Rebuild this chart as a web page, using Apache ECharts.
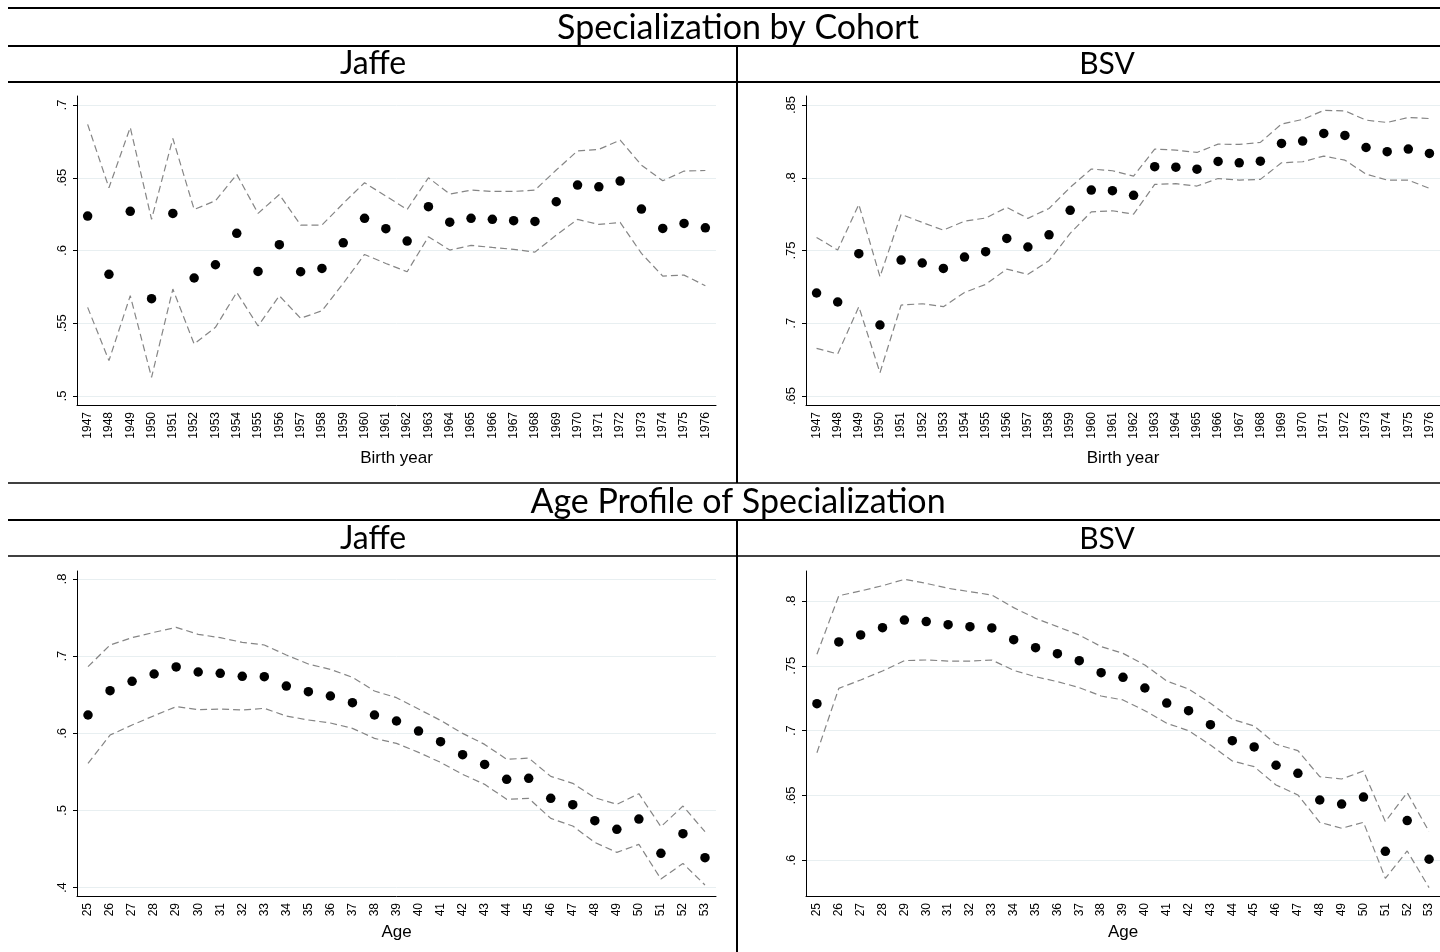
<!DOCTYPE html>
<html>
<head>
<meta charset="utf-8">
<script src="https://cdn.jsdelivr.net/npm/echarts@6/dist/echarts.min.js"></script>
<style>
html,body{margin:0;padding:0;background:#fff;}
#chart{width:1440px;height:952px;}
</style>
</head>
<body>
<div id="chart"></div>
<script>
// ---------- DATA ----------
const birthYears = ['1947','1948','1949','1950','1951','1952','1953','1954','1955','1956','1957','1958','1959','1960','1961','1962','1963','1964','1965','1966','1967','1968','1969','1970','1971','1972','1973','1974','1975','1976'];
const ages = ['25','26','27','28','29','30','31','32','33','34','35','36','37','38','39','40','41','42','43','44','45','46','47','48','49','50','51','52','53'];

// Specialization by cohort - Jaffe
const jaffeCohortEst = [0.6237,0.5836,0.6269,0.5669,0.6255,0.5811,0.5902,0.6118,0.5856,0.6040,0.5854,0.5877,0.6053,0.6221,0.6150,0.6065,0.6301,0.6195,0.6221,0.6214,0.6205,0.6200,0.6335,0.6450,0.6438,0.6477,0.6285,0.6152,0.6186,0.6156];
const jaffeCohortHi  = [0.6867,0.6431,0.6846,0.6214,0.6770,0.6282,0.6342,0.6523,0.6255,0.6385,0.6175,0.6175,0.6324,0.6466,0.6374,0.6282,0.6500,0.6388,0.6415,0.6406,0.6406,0.6415,0.6553,0.6685,0.6695,0.6759,0.6587,0.6479,0.6546,0.6550];
const jaffeCohortLo  = [0.5609,0.5243,0.5689,0.5128,0.5735,0.5357,0.5472,0.5712,0.5481,0.5689,0.5534,0.5586,0.5774,0.5973,0.5911,0.5854,0.6095,0.6003,0.6035,0.6021,0.6008,0.5989,0.6106,0.6214,0.6179,0.6193,0.5980,0.5824,0.5831,0.5758];

// Specialization by cohort - BSV
const bsvCohortEst = [0.7208,0.7146,0.7478,0.6988,0.7434,0.7414,0.7377,0.7455,0.7492,0.7583,0.7524,0.7608,0.7776,0.7915,0.7911,0.7879,0.8076,0.8073,0.8059,0.8112,0.8103,0.8114,0.8236,0.8252,0.8305,0.8291,0.8208,0.8179,0.8197,0.8167];
const bsvCohortHi  = [0.7590,0.7503,0.7817,0.7320,0.7748,0.7693,0.7640,0.7702,0.7723,0.7796,0.7721,0.7789,0.7934,0.8060,0.8048,0.8011,0.8197,0.8190,0.8174,0.8231,0.8229,0.8243,0.8369,0.8401,0.8463,0.8460,0.8396,0.8380,0.8414,0.8407];
const bsvCohortLo  = [0.6827,0.6789,0.7114,0.6660,0.7125,0.7134,0.7114,0.7212,0.7267,0.7372,0.7336,0.7430,0.7618,0.7766,0.7773,0.7750,0.7954,0.7959,0.7943,0.7995,0.7984,0.7989,0.8103,0.8110,0.8149,0.8121,0.8025,0.7984,0.7984,0.7927];

// Age profile - Jaffe
const jaffeAgeEst = [0.6238,0.6553,0.6674,0.6769,0.6860,0.6795,0.6778,0.6739,0.6734,0.6613,0.6540,0.6484,0.6397,0.6238,0.6160,0.6030,0.5892,0.5724,0.5598,0.5404,0.5417,0.5158,0.5076,0.4868,0.4756,0.4890,0.4445,0.4700,0.4389];
const jaffeAgeHi  = [0.6864,0.7145,0.7240,0.7309,0.7374,0.7283,0.7240,0.7179,0.7145,0.7015,0.6898,0.6829,0.6726,0.6549,0.6462,0.6315,0.6168,0.6000,0.5857,0.5663,0.5680,0.5443,0.5352,0.5166,0.5080,0.5218,0.4790,0.5058,0.4726];
const jaffeAgeLo  = [0.5611,0.5978,0.6108,0.6229,0.6346,0.6307,0.6315,0.6302,0.6324,0.6225,0.6173,0.6134,0.6065,0.5935,0.5870,0.5754,0.5624,0.5469,0.5339,0.5145,0.5158,0.4898,0.4799,0.4587,0.4458,0.4562,0.4112,0.4315,0.4035];

// Age profile - BSV
const bsvAgeEst = [0.7208,0.7684,0.7738,0.7794,0.7853,0.7841,0.7817,0.7802,0.7792,0.7702,0.7640,0.7594,0.7540,0.7447,0.7411,0.7329,0.7213,0.7154,0.7046,0.6923,0.6874,0.6733,0.6671,0.6465,0.6434,0.6488,0.6069,0.6306,0.6008];
const bsvAgeHi  = [0.7589,0.8041,0.8077,0.8118,0.8167,0.8136,0.8098,0.8072,0.8046,0.7949,0.7866,0.7802,0.7738,0.7648,0.7596,0.7506,0.7383,0.7321,0.7211,0.7087,0.7036,0.6895,0.6846,0.6645,0.6627,0.6689,0.6298,0.6522,0.6221];
const bsvAgeLo  = [0.6830,0.7326,0.7391,0.7460,0.7540,0.7545,0.7537,0.7537,0.7545,0.7465,0.7416,0.7378,0.7332,0.7267,0.7237,0.7154,0.7057,0.7000,0.6889,0.6766,0.6722,0.6581,0.6504,0.6293,0.6247,0.6293,0.5861,0.6072,0.5789];

// Y tick values and axis extents
const jaffeCohortTicks = [0.5,0.55,0.6,0.65,0.7];
const bsvCohortTicks = [0.65,0.7,0.75,0.8,0.85];
const jaffeAgeTicks = [0.4,0.5,0.6,0.7,0.8];
const bsvAgeTicks = [0.6,0.65,0.7,0.75,0.8];
const jaffeCohortRange = [0.49381, 0.70619];
const bsvCohortRange = [0.64381, 0.85619];
const jaffeAgeRange = [0.38925, 0.81037];
const bsvAgeRange = [0.57246, 0.82314];

// ---------- CHART ----------
const LABEL_FONT = "'Liberation Sans', Arial, Helvetica, sans-serif";
const TITLE_FONT = "Lato, 'Open Sans', sans-serif";
const fmt = v => String(+v.toFixed(3)).replace(/^0\./, '.');

const grids = [], xAxes = [], yAxes = [], series = [];
function addPanel(box, cats, est, hi, lo, ticks, range, xname, nameGap) {
  const i = grids.length;
  grids.push(Object.assign({containLabel: false}, box));
  xAxes.push({
    type: 'category', gridIndex: i, data: cats, boundaryGap: true,
    name: xname, nameLocation: 'middle', nameGap: nameGap,
    nameTextStyle: {fontFamily: LABEL_FONT, fontSize: 17, color: '#000'},
    axisLine: {lineStyle: {color: '#000', width: 1}},
    axisTick: {alignWithLabel: true, interval: 0, length: 4, lineStyle: {color: '#000'}},
    axisLabel: {interval: 0, rotate: 90, margin: 7, fontFamily: LABEL_FONT, fontSize: 12, color: '#000'},
    splitLine: {show: false}
  });
  yAxes.push({
    type: 'value', gridIndex: i, min: range[0], max: range[1],
    axisLine: {show: true, lineStyle: {color: '#000', width: 1}},
    axisTick: {show: true, length: 4, lineStyle: {color: '#000'}, customValues: ticks},
    axisLabel: {rotate: 90, margin: 8, fontFamily: LABEL_FONT, fontSize: 13, color: '#000',
      customValues: ticks, formatter: fmt},
    splitLine: {show: true, lineStyle: {color: '#e8eff1', width: 1}}
  });
  const dash = {type: [7, 4], width: 1.2, color: '#858585'};
  series.push({type: 'line', xAxisIndex: i, yAxisIndex: i, data: hi, symbol: 'none', lineStyle: dash, silent: true, z: 2});
  series.push({type: 'line', xAxisIndex: i, yAxisIndex: i, data: lo, symbol: 'none', lineStyle: dash, silent: true, z: 2});
  series.push({type: 'scatter', xAxisIndex: i, yAxisIndex: i, data: est, symbolSize: 9.5, itemStyle: {color: '#000', opacity: 1}, z: 3});
}

addPanel({left: 77, top: 96, width: 639, height: 309}, birthYears, jaffeCohortEst, jaffeCohortHi, jaffeCohortLo, jaffeCohortTicks, jaffeCohortRange, 'Birth year', 45);
addPanel({left: 806, top: 96, width: 638, height: 309}, birthYears, bsvCohortEst, bsvCohortHi, bsvCohortLo, bsvCohortTicks, bsvCohortRange, 'Birth year', 45);
addPanel({left: 77, top: 571, width: 639, height: 325}, ages, jaffeAgeEst, jaffeAgeHi, jaffeAgeLo, jaffeAgeTicks, jaffeAgeRange, 'Age', 28);
addPanel({left: 806, top: 571, width: 638, height: 325}, ages, bsvAgeEst, bsvAgeHi, bsvAgeLo, bsvAgeTicks, bsvAgeRange, 'Age', 28);

function hline(y, w, x1) {
  return {type: 'line', shape: {x1: x1 == null ? 8 : x1, y1: y, x2: 1440, y2: y}, style: {stroke: '#000', lineWidth: w}, silent: true};
}
function vline(x, y1, y2, w) {
  return {type: 'line', shape: {x1: x, y1: y1, x2: x, y2: y2}, style: {stroke: '#000', lineWidth: w}, silent: true};
}
function txt(x, y, s, size) {
  return {type: 'text', x: x, y: y, style: {text: s, fill: '#000', font: size + 'px ' + TITLE_FONT, textAlign: 'center', textVerticalAlign: 'middle'}, silent: true};
}

const graphics = [
  hline(8, 2), hline(46, 2), hline(82, 2),
  vline(737, 46, 483, 2),
  txt(738, 28, 'Specialization by Cohort', 34),
  txt(373, 64, 'Jaffe', 32),
  txt(1107, 64, 'BSV', 30),
  hline(483, 1.3), hline(520, 2), hline(556, 1.3),
  vline(737, 520, 952, 2),
  txt(738, 502, 'Age Profile of Specialization', 34),
  txt(373, 539, 'Jaffe', 32),
  txt(1107, 539, 'BSV', 30)
];

const chart = echarts.init(document.getElementById('chart'), null, {renderer: 'canvas'});
chart.setOption({
  backgroundColor: '#fff',
  animation: false,
  grid: grids,
  xAxis: xAxes,
  yAxis: yAxes,
  series: series,
  graphic: graphics
});
</script>
</body>
</html>
